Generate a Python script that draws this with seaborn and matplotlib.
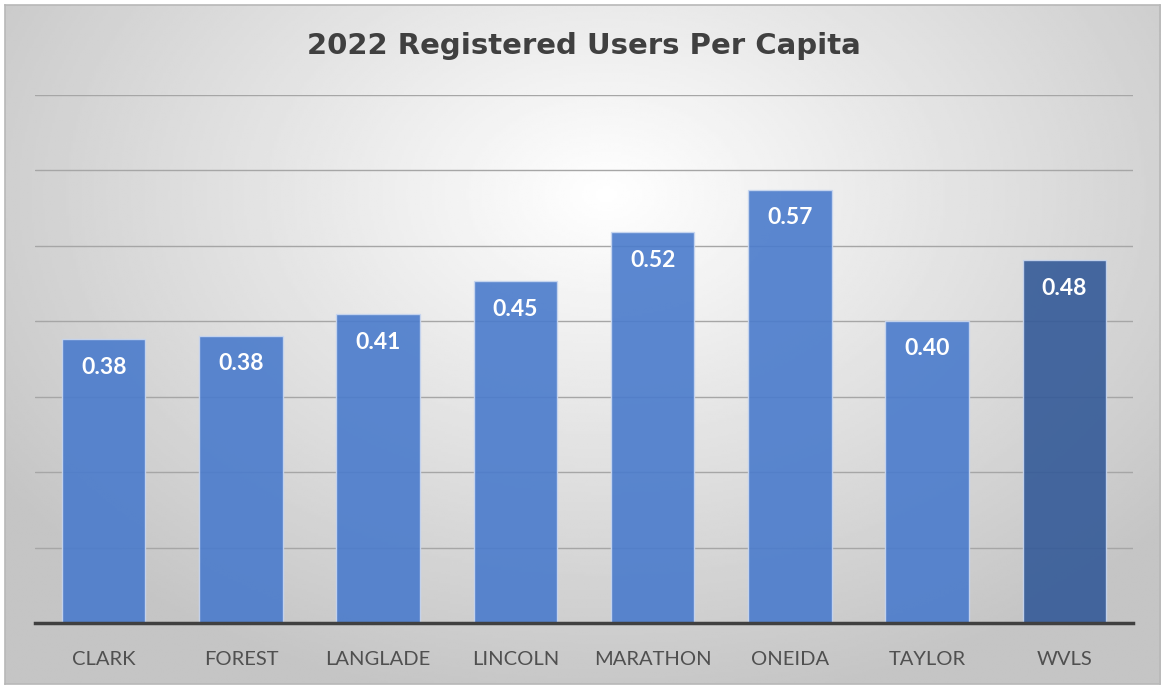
import numpy as np
import pandas as pd
import matplotlib
matplotlib.use('Agg')
import matplotlib.pyplot as plt
import seaborn as sns

# values
counties = ['CLARK', 'FOREST', 'LANGLADE', 'LINCOLN', 'MARATHON', 'ONEIDA', 'TAYLOR', 'WVLS']
per_capita = [0.376, 0.381, 0.409, 0.453, 0.518, 0.574, 0.401, 0.481]
y_ticks = [0.0, 0.1, 0.2, 0.3, 0.4, 0.5, 0.6, 0.7]

df = pd.DataFrame({'county': counties, 'value': per_capita})

sns.set_theme(style='white')
plt.rcParams['font.family'] = ['Lato', 'DejaVu Sans']

fig = plt.figure(figsize=(11.65, 6.9), dpi=100)

# radial gradient background (frame)
bg = fig.add_axes([0.004, 0.008, 0.992, 0.985])
yy, xx = np.mgrid[0:1:300j, 0:1:500j]
r = np.sqrt(((xx - 0.52) / 0.75) ** 2 + ((yy - 0.72) / 0.9) ** 2)
shade = np.clip(1.0 - 0.27 * r, 0.77, 1.0)
bg.imshow(shade, cmap='gray', vmin=0, vmax=1, aspect='auto',
          extent=[0, 1, 0, 1], origin='lower')
bg.set_xticks([])
bg.set_yticks([])
for s in bg.spines.values():
    s.set_color('#b8b8b8')
    s.set_linewidth(1.2)

ax = fig.add_axes([35 / 1165, 1 - 623 / 690, (1133 - 35) / 1165, (623 - 95) / 690])
ax.patch.set_alpha(0)

colors = ['#4a7bcc'] * 7 + ['#345a98']
sns.barplot(data=df, x='county', y='value', hue='county', palette=colors,
            legend=False, width=0.61, ax=ax, alpha=0.9, saturation=1,
            edgecolor='#c9d7f0', linewidth=1.0, zorder=3)

ax.set_ylim(0, 0.7)
ax.set_xlim(-0.5, 7.5)
ax.set_yticks(y_ticks)
ax.yaxis.grid(True, color='#a6a6a6', linewidth=1.0, zorder=0)
ax.set_yticklabels([])
ax.tick_params(axis='y', length=0)
ax.tick_params(axis='x', length=0, labelsize=14.5, labelcolor='#505050', pad=20)
ax.set_xlabel('')
ax.set_ylabel('')
for side in ['top', 'right', 'left']:
    ax.spines[side].set_visible(False)
ax.spines['bottom'].set_color('#404040')
ax.spines['bottom'].set_linewidth(2.5)
ax.spines['bottom'].set_zorder(5)

for i, v in enumerate(per_capita):
    ax.text(i, v - 0.037, f'{v:.2f}', ha='center', va='center',
            color='white', fontsize=16.5, fontweight='bold', zorder=6)

fig.text(0.501, 1 - 46 / 690, '2022 Registered Users Per Capita', ha='center',
         va='center', fontsize=21, fontweight='bold', color='#404040',
         family='DejaVu Sans')

fig.savefig('out.png', dpi=100)
